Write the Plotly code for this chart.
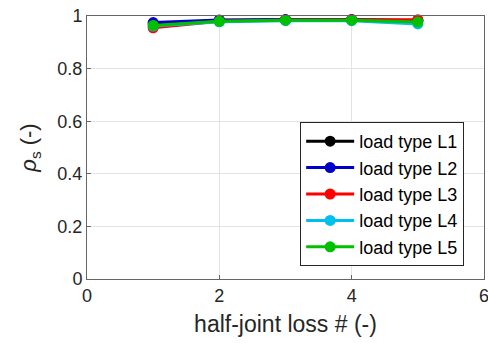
import plotly.graph_objects as go

# half-joint loss index
joints = [1, 2, 3, 4, 5]

# rho_s per load type
rho_L1 = [0.970, 0.983, 0.985, 0.985, 0.982]
rho_L2 = [0.975, 0.985, 0.987, 0.987, 0.983]
rho_L3 = [0.955, 0.980, 0.985, 0.986, 0.986]
rho_L4 = [0.962, 0.978, 0.982, 0.982, 0.970]
rho_L5 = [0.964, 0.980, 0.984, 0.984, 0.977]

series = [
    ("load type L1", rho_L1, "#000000"),
    ("load type L2", rho_L2, "#0000C8"),
    ("load type L3", rho_L3, "#FF0000"),
    ("load type L4", rho_L4, "#00BFEF"),
    ("load type L5", rho_L5, "#00C000"),
]

x_ticks = [0, 2, 4, 6]
y_ticks = [0, 0.2, 0.4, 0.6, 0.8, 1]
y_tick_text = ["0", "0.2", "0.4", "0.6", "0.8", "1"]

fig = go.Figure()
for name, vals, col in series:
    fig.add_trace(go.Scatter(
        x=joints, y=vals, name=name, mode="lines+markers",
        line=dict(color=col, width=3),
        marker=dict(color=col, size=11),
        cliponaxis=False,
    ))

FONT = "Liberation Sans, Arial"
axis_common = dict(
    showline=True, linecolor="#666666", linewidth=1, mirror=True,
    showgrid=True, gridcolor="#E3E3E3", gridwidth=1,
    zeroline=False, ticks="inside", ticklen=4, tickcolor="#666666",
    tickfont=dict(family=FONT, size=18, color="#262626"),
    ticklabeloverflow="allow", automargin=False,
)

fig.update_layout(
    width=488, height=343,
    margin=dict(l=87, r=4, t=16, b=64),
    paper_bgcolor="white", plot_bgcolor="white",
    font=dict(family=FONT, color="#262626"),
    xaxis=dict(range=[0, 6], tickvals=x_ticks,
               title=dict(text="half-joint loss # (-)", font=dict(size=23), standoff=11),
               **axis_common),
    yaxis=dict(range=[0, 1], tickvals=y_ticks, ticktext=y_tick_text,
               title=dict(text="<i>ρ</i><sub>s</sub> (-)", font=dict(size=22), standoff=14),
               **axis_common),
    legend=dict(
        x=0.95, xanchor="right", y=0.597, yanchor="top",
        bgcolor="white", bordercolor="#262626", borderwidth=1,
        font=dict(family=FONT, size=18, color="#000000"),
        itemwidth=48, tracegroupgap=0,
    ),
    showlegend=True,
)

fig.write_html("out.html")
